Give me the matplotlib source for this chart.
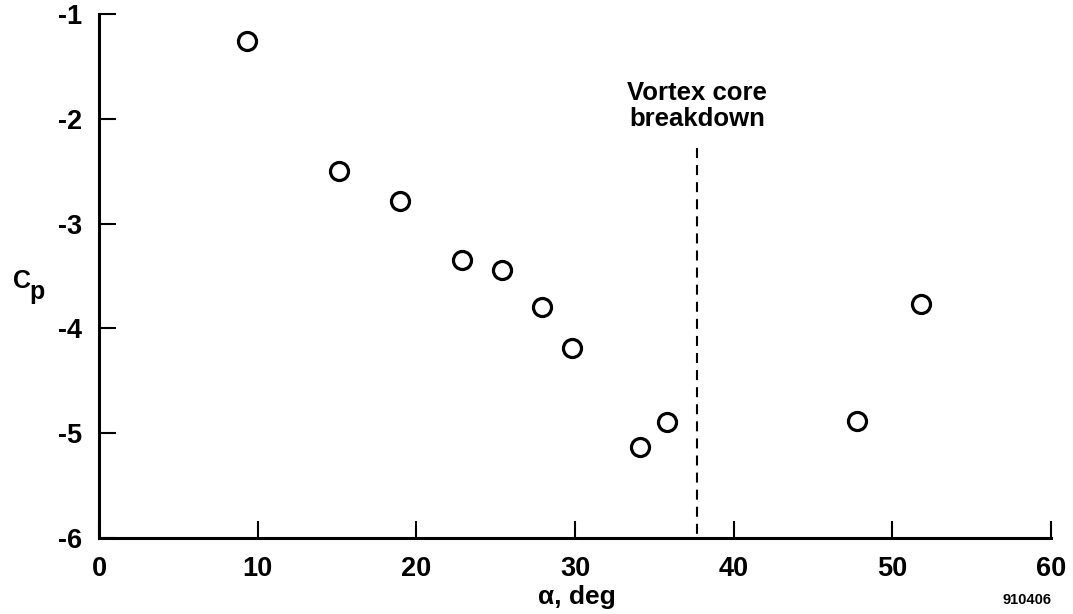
import matplotlib.pyplot as plt

# === data ===
alpha = [9.3, 15.1, 19.0, 22.9, 25.4, 27.9, 29.8, 34.1, 35.8, 47.8, 51.8]
cp = [-1.26, -2.50, -2.78, -3.35, -3.44, -3.80, -4.19, -5.13, -4.89, -4.88, -3.77]
breakdown_alpha = 37.7
x_ticks = [0, 10, 20, 30, 40, 50, 60]
y_ticks = [-1, -2, -3, -4, -5, -6]

plt.rcParams['font.family'] = ['Liberation Sans', 'DejaVu Sans']
plt.rcParams['font.weight'] = 'bold'
plt.rcParams['axes.unicode_minus'] = False

fig = plt.figure(figsize=(10.73, 6.14), dpi=100)
ax = fig.add_axes([0.0923, 0.1238, 0.8872, 0.8534])

ax.plot(alpha, cp, 'o', ms=13, mfc='white', mec='black', mew=2.3, clip_on=False)

# vortex core breakdown marker
ax.plot([breakdown_alpha, breakdown_alpha], [-2.28, -6], color='black', lw=1.5,
        dashes=(4.8, 3.4))
ax.text(breakdown_alpha, -1.88, "Vortex core\nbreakdown", ha='center', va='center',
        fontsize=18.5, fontweight='bold', linespacing=1.1)

ax.set_xlim(0, 60)
ax.set_ylim(-6, -1)
ax.set_xticks(x_ticks)
ax.set_yticks(y_ticks)
ax.tick_params(direction='in', length=12, width=1.5, labelsize=19.5, pad=13)
ax.tick_params(axis='y', pad=12)
for lab in ax.get_xticklabels() + ax.get_yticklabels():
    lab.set_fontweight('bold')

for s in ['top', 'right']:
    ax.spines[s].set_visible(False)
for s in ['left', 'bottom']:
    ax.spines[s].set_linewidth(2.2)

# axis labels
fig.text(577 / 1073, 1 - 597 / 614, "\u03b1, deg", ha='center', va='center',
         fontsize=19, fontweight='bold')
fig.text(22 / 1073, 1 - 281 / 614, "C", ha='center', va='center',
         fontsize=18, fontweight='bold')
fig.text(37 / 1073, 1 - 292 / 614, "p", ha='center', va='center',
         fontsize=18, fontweight='bold')
fig.text(1027 / 1073, 1 - 600 / 614, "910406", ha='center', va='center',
         fontsize=10.5, fontweight='bold')

fig.savefig("out.png", dpi=100)
